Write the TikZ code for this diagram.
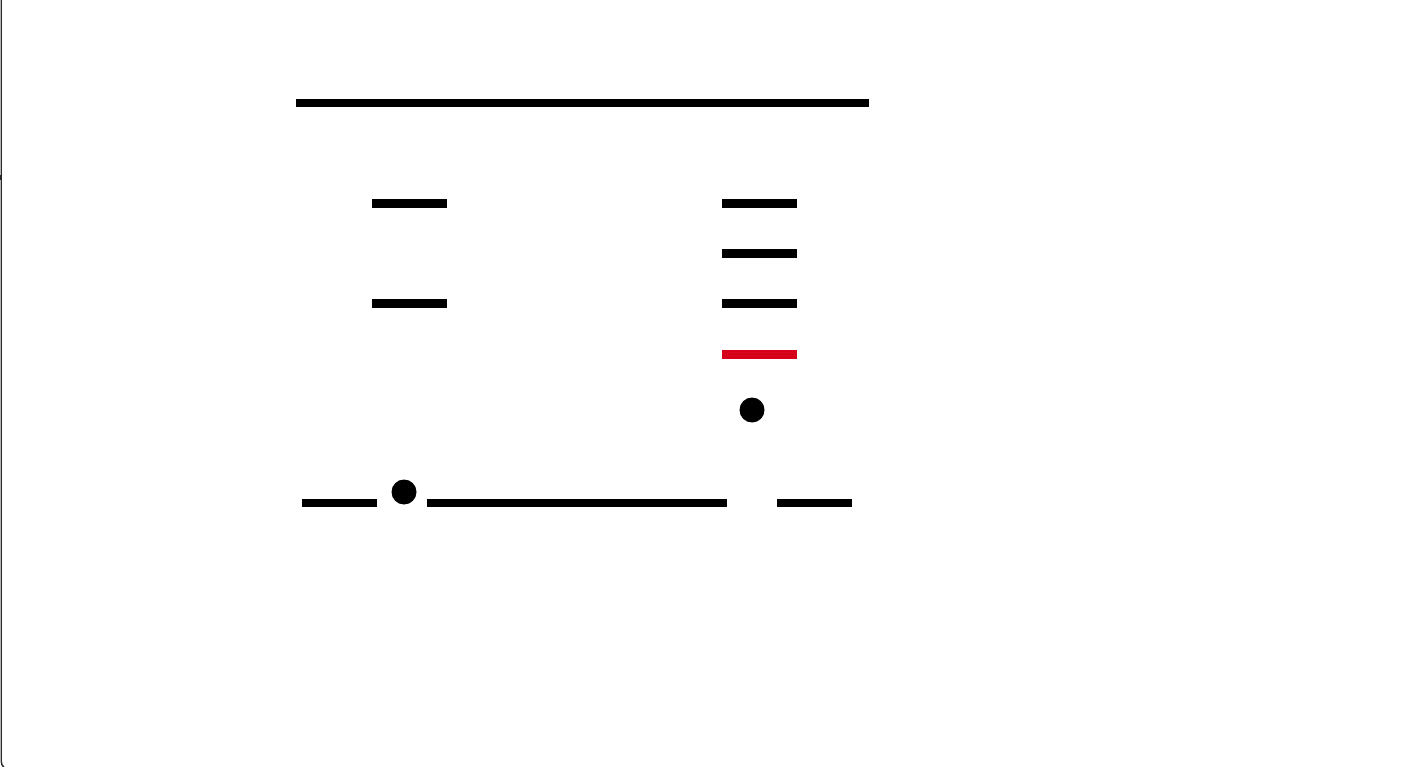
\documentclass[tikz,border=0pt]{standalone}
\definecolor{barred}{RGB}{215,0,26}
\definecolor{framegray}{RGB}{40,40,40}
\begin{document}
\begin{tikzpicture}[x=1pt,y=-1pt,
  bar/.style={line width=9pt},
  topbar/.style={line width=8pt},
  dot/.style={fill=black},
  frameline/.style={draw=framegray,line width=1.4pt,rounded corners=9pt}]
\useasboundingbox (0,0) rectangle (1419,767);
\fill[white] (0,0) rectangle (1419,767);
\begin{scope}
\clip (0,0) rectangle (1419,767);
\draw[frameline] (1.2,-20) rectangle (1500,770);
\fill[framegray] (0,175) rectangle (2.2,180);
\end{scope}
% top bar
\draw[topbar] (296,103) -- (869,103);
% left column
\draw[bar] (372,204) -- (447,204);
\draw[bar] (372,304) -- (447,304);
% right column
\draw[bar] (722,204) -- (797,204);
\draw[bar] (722,254) -- (797,254);
\draw[bar] (722,304) -- (797,304);
\draw[bar,barred] (722,354) -- (797,354);
\fill[dot] (752,410) circle (12.5);
% bottom row
\draw[topbar] (302,503) -- (377,503);
\fill[dot] (404,492) circle (12.5);
\draw[topbar] (427,503) -- (727,503);
\draw[topbar] (777,503) -- (852,503);
\end{tikzpicture}
\end{document}
